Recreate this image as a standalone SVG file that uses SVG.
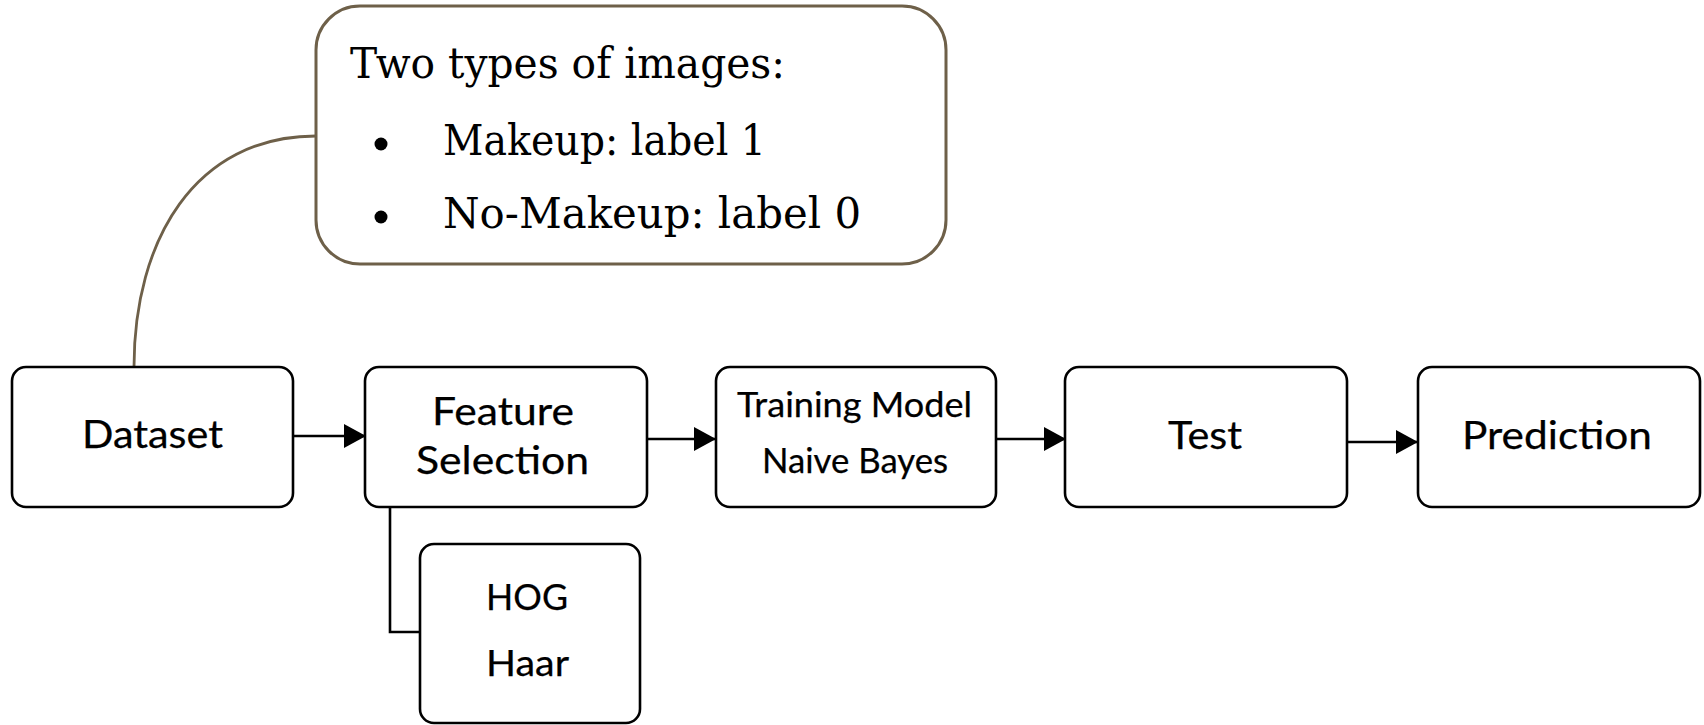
<svg xmlns="http://www.w3.org/2000/svg" width="1704" height="725" viewBox="0 0 1704 725">
  <style>
    .box { fill: #ffffff; stroke: #000000; stroke-width: 2.6; }
    .callout { fill: #ffffff; stroke: #6e6049; stroke-width: 3; }
    .lbl { font-family: Lato, "Liberation Sans", sans-serif; fill: #000000; text-anchor: middle; stroke: #000000; stroke-width: 0.25; }
    .ser { font-family: "DejaVu Serif", "Liberation Serif", serif; fill: #000000; font-size: 42px; }
    .conn { fill: none; stroke: #000000; stroke-width: 2.6; }
    .brown { fill: none; stroke: #6e6049; stroke-width: 2.8; }
  </style>
  <defs>
    <marker id="arr" markerUnits="userSpaceOnUse" markerWidth="22" markerHeight="24" refX="22" refY="12" orient="auto">
      <path d="M0,0 L22,12 L0,24 z" fill="#000000"/>
    </marker>
  </defs>
  <rect width="1704" height="725" fill="#ffffff"/>

  <g id="connectors">
    <path class="brown" d="M134 367 C 134 240, 195 136, 316 136"/>
    <line class="conn" x1="294" y1="436" x2="366" y2="436" marker-end="url(#arr)"/>
    <line class="conn" x1="647" y1="439" x2="716" y2="439" marker-end="url(#arr)"/>
    <line class="conn" x1="996" y1="439" x2="1066" y2="439" marker-end="url(#arr)"/>
    <line class="conn" x1="1347" y1="442" x2="1418" y2="442" marker-end="url(#arr)"/>
    <polyline class="conn" points="390,507 390,632 420,632"/>
  </g>

  <g id="callout">
    <rect class="callout" x="316" y="6" width="630" height="258" rx="44" ry="44"/>
    <text class="ser" x="350" y="78" textLength="435" lengthAdjust="spacingAndGlyphs">Two types of images:</text>
    <circle cx="381" cy="144" r="6.5" fill="#000000"/>
    <text class="ser" x="443" y="155" textLength="323" lengthAdjust="spacingAndGlyphs">Makeup: label 1</text>
    <circle cx="381" cy="217" r="6.5" fill="#000000"/>
    <text class="ser" x="443" y="228" textLength="418" lengthAdjust="spacingAndGlyphs">No-Makeup: label 0</text>
  </g>

  <g id="dataset">
    <rect class="box" x="12" y="367" width="281" height="140" rx="14" ry="14"/>
    <text class="lbl" x="152.5" y="448" font-size="39" textLength="141" lengthAdjust="spacingAndGlyphs">Dataset</text>
  </g>

  <g id="feature-selection">
    <rect class="box" x="365" y="367" width="282" height="140" rx="14" ry="14"/>
    <text class="lbl" x="503" y="425" font-size="39" textLength="142" lengthAdjust="spacingAndGlyphs">Feature</text>
    <text class="lbl" x="502.5" y="474" font-size="39" textLength="173" lengthAdjust="spacingAndGlyphs">Selection</text>
  </g>

  <g id="training-model">
    <rect class="box" x="716" y="367" width="280" height="140" rx="14" ry="14"/>
    <text class="lbl" x="854.5" y="417" font-size="34" textLength="235" lengthAdjust="spacingAndGlyphs">Training Model</text>
    <text class="lbl" x="855" y="473" font-size="34" textLength="186" lengthAdjust="spacingAndGlyphs">Naive Bayes</text>
  </g>

  <g id="test">
    <rect class="box" x="1065" y="367" width="282" height="140" rx="14" ry="14"/>
    <text class="lbl" x="1205" y="449" font-size="39" textLength="74" lengthAdjust="spacingAndGlyphs">Test</text>
  </g>

  <g id="prediction">
    <rect class="box" x="1418" y="367" width="282" height="140" rx="14" ry="14"/>
    <text class="lbl" x="1557" y="449" font-size="39" textLength="190" lengthAdjust="spacingAndGlyphs">Prediction</text>
  </g>

  <g id="hog-haar">
    <rect class="box" x="420" y="544" width="220" height="179" rx="14" ry="14"/>
    <text class="lbl" x="527" y="610" font-size="36" textLength="82" lengthAdjust="spacingAndGlyphs">HOG</text>
    <text class="lbl" x="527.5" y="676" font-size="36" textLength="83" lengthAdjust="spacingAndGlyphs">Haar</text>
  </g>
</svg>
